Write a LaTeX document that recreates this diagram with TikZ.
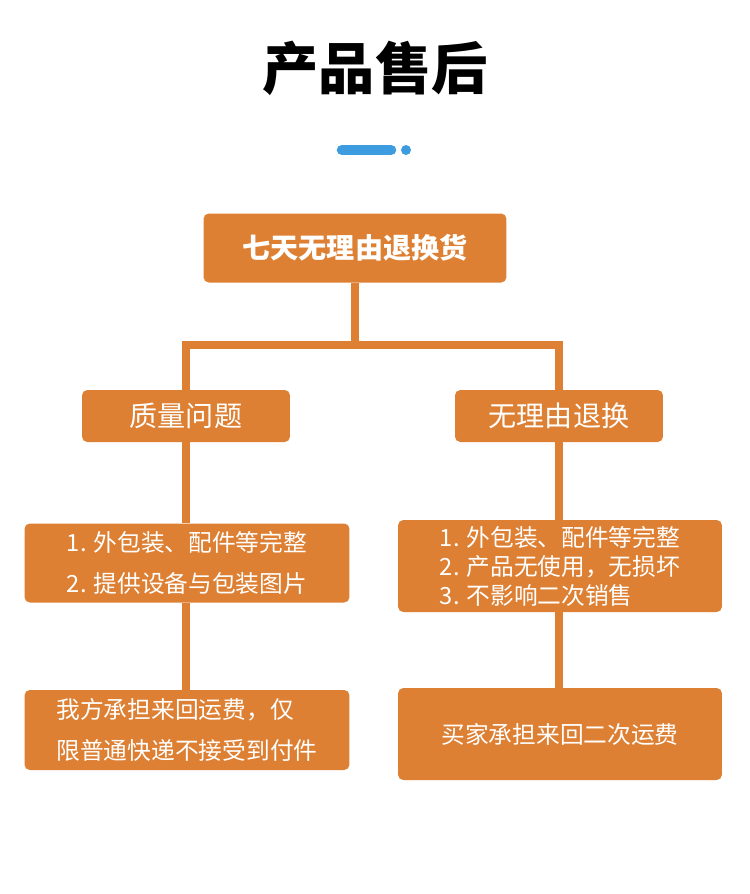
\documentclass[tikz,border=0pt]{standalone}
\usepackage{fontspec}
\setmainfont{Noto Sans CJK SC}
\usetikzlibrary{positioning}
\definecolor{boxorange}{HTML}{DD8033}
\definecolor{barblue}{HTML}{3D9BE0}
\begin{document}
\begin{tikzpicture}[x=0.02cm, y=-0.02cm,
  box/.style={rectangle, rounded corners=3pt, fill=boxorange, text=white, inner sep=2pt},
  link/.style={boxorange, line width=5pt},
  font=\fontsize{15}{20}\selectfont
]
\useasboundingbox (0,0) rectangle (750,894);
\node (title) at (375,68) {\fontsize{32}{36}\selectfont\bfseries 产品售后};
\draw[barblue, line width=6pt, line cap=round] (342,150) -- (391,150);
\fill[barblue] (406,150) circle (5);

\node[box, minimum width=6.06cm, minimum height=1.38cm, font=\fontsize{16}{20}\selectfont\bfseries] (top) at (355,248) {七天无理由退换货};
\node[box, minimum width=4.16cm, minimum height=1.04cm, font=\fontsize{16}{20}\selectfont] (quality) at (186,416) {质量问题};
\node[box, minimum width=4.16cm, minimum height=1.04cm, font=\fontsize{16}{20}\selectfont] (noreason) at (559,416) {无理由退换};
\node[box, minimum width=6.5cm, minimum height=1.58cm, align=left, font=\fontsize{13.5}{23}\selectfont] (qcond) at (187,563) {1. 外包装、配件等完整\\2. 提供设备与包装图片};
\node[box, minimum width=6.48cm, minimum height=1.84cm, align=left, font=\fontsize{13.5}{16.5}\selectfont] (ncond) at (560,566) {1. 外包装、配件等完整\\2. 产品无使用，无损坏\\3. 不影响二次销售};
\node[box, minimum width=6.5cm, minimum height=1.6cm, align=left, font=\fontsize{13.5}{23}\selectfont] (qfee) at (187,730) {我方承担来回运费，仅\\限普通快递不接受到付件};
\node[box, minimum width=6.48cm, minimum height=1.84cm, font=\fontsize{13.5}{20}\selectfont] (nfee) at (560,734) {买家承担来回二次运费};

% Tree links
\coordinate (split) at (355,345);
\draw[link] (top.south) -- (split);
\draw[link] (quality.north) |- (split) -| (noreason.north);
\draw[link] (quality.south) -- (qcond.north -| quality.south);
\draw[link] (noreason.south) -- (ncond.north -| noreason.south);
\draw[link] (qcond.south -| quality.south) -- (qfee.north -| quality.south);
\draw[link] (ncond.south -| noreason.south) -- (nfee.north -| noreason.south);
\end{tikzpicture}
\end{document}
